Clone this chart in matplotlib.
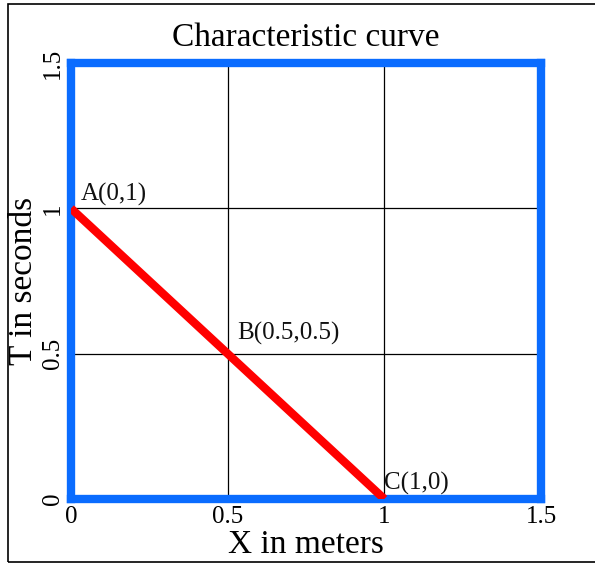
import matplotlib
matplotlib.use("Agg")
import matplotlib.pyplot as plt
from matplotlib.patches import Rectangle

# ================= data =================
x_points = [0, 0.5, 1]
t_points = [1, 0.5, 0]
point_labels = ["A(0,1)", "B(0.5,0.5)", "C(1,0)"]
label_offsets = [(7, 2), (7, 6), (0, 3)]   # in points
x_ticks = [0, 0.5, 1, 1.5]
x_tick_labels = ["0", "0.5", "1", "1.5"]
y_ticks = [0, 0.5, 1, 1.5]
y_tick_labels = ["0", "0.5", "1", "1.5"]
# ========================================

plt.rcParams["font.family"] = ["Liberation Serif", "DejaVu Serif"]

fig = plt.figure(figsize=(5.95, 5.64), dpi=100)
ax = fig.add_axes([0.1193, 0.1152, 0.790, 0.773])

# thin frame around the whole picture
fig.patches.append(Rectangle((8 / 595, 2 / 564), 1.0, 558 / 564, transform=fig.transFigure,
                             fill=False, edgecolor="black", linewidth=1.2))

ax.plot(x_points, t_points, color="#ff0000", linewidth=6, solid_capstyle="butt", zorder=3)

for x, t, lab, off in zip(x_points, t_points, point_labels, label_offsets):
    ax.annotate(lab, (x, t), xytext=off, textcoords="offset points",
                fontsize=18, ha="left", va="bottom", color="#111111")

ax.set_xlim(0, 1.5)
ax.set_ylim(0, 1.5)
ax.set_xticks(x_ticks)
ax.set_xticklabels(x_tick_labels, fontsize=18)
ax.set_yticks(y_ticks)
ax.set_yticklabels(y_tick_labels, fontsize=18, rotation=90, va="center")
ax.tick_params(length=0, pad=5)
ax.grid(True, color="black", linewidth=0.9)
ax.set_axisbelow(True)

for sp in ax.spines.values():
    sp.set_color("#0a6cff")
    sp.set_linewidth(6)

ax.set_title("Characteristic curve", fontsize=24, pad=12)
ax.set_xlabel("X in meters", fontsize=24, labelpad=1)
ax.set_ylabel("T in seconds", fontsize=24, labelpad=2)

fig.savefig("out.png", dpi=100, facecolor="white")
